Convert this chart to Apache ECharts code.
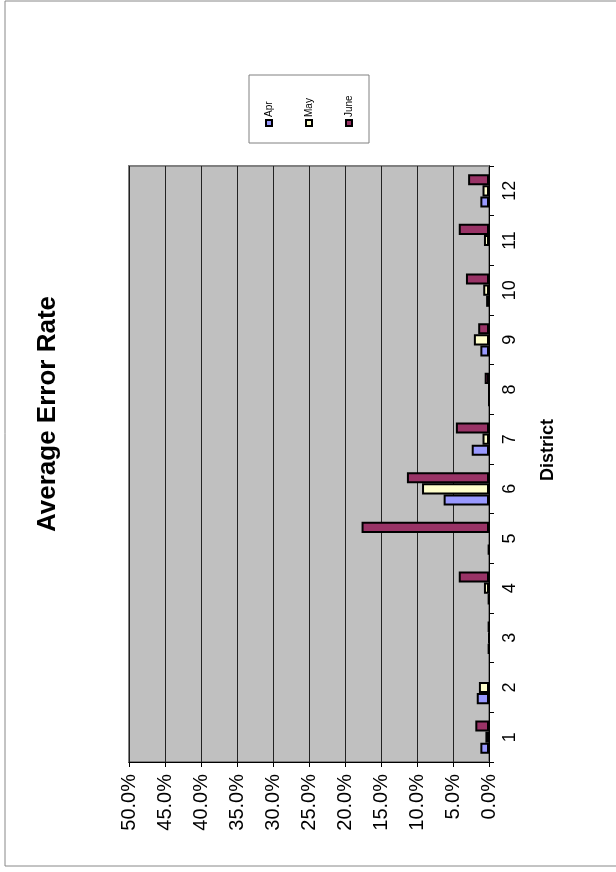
<!DOCTYPE html>
<html>
<head>
<meta charset="utf-8">
<script src="https://cdn.jsdelivr.net/npm/echarts@6/dist/echarts.min.js"></script>
<style>
html,body{margin:0;padding:0;background:#fff;}
#chart{width:616px;height:872px;}
</style>
</head>
<body>
<div id="chart"></div>
<script>
const categories = ['1','2','3','4','5','6','7','8','9','10','11','12'];
const seriesNames = ['Apr','May','June'];
const apr  = [1.2, 1.7, 0.1, 0.1, 0.1, 6.3, 2.4, 0,   1.2, 0.4, null, 1.2];
const may  = [0.5, 1.4, 0,   0.7, null, 9.3, 0.9, 0,  2.1, 0.8, 0.7, 0.9];
const june = [1.9, null, 0.1, 4.2, 17.7, 11.4, 4.6, 0.6, 1.5, 3.2, 4.2, 2.9];
const valueTicks = {min: 0, max: 50, interval: 5};
const colors = ['#9999FF', '#FFFFCC', '#993366'];
const title = 'Average Error Rate';
const axisName = 'District';

const chart = echarts.init(document.getElementById('chart'), null, {renderer: 'canvas'});
const font = 'Arial, "Liberation Sans", Helvetica, sans-serif';

const legendItems = [];
seriesNames.forEach((n, i) => {
  const x = 269 + i * 40;
  legendItems.push({
    type: 'rect', shape: {x: x - 3, y: 120, width: 6, height: 6},
    style: {fill: colors[i], stroke: '#000', lineWidth: 2}, z: 10
  });
  legendItems.push({
    type: 'text', x: x, y: 117, rotation: Math.PI / 2,
    style: {text: n, font: '10px ' + font, fill: '#000', textAlign: 'left', textVerticalAlign: 'middle'}, z: 10
  });
});

// Series listed June→Apr so that Apr sits lowest in each band (as in the reference)
const seriesData = [apr, may, june];
const order = [2, 1, 0];

const option = {
  animation: false,
  backgroundColor: '#fff',
  textStyle: {fontFamily: font},
  grid: {
    left: 129, right: 127, top: 166, bottom: 110,
    show: true, backgroundColor: '#C0C0C0', borderColor: '#808080', borderWidth: 2
  },
  xAxis: {
    type: 'value', inverse: true, position: 'bottom',
    min: valueTicks.min, max: valueTicks.max, interval: valueTicks.interval,
    axisLine: {show: true, lineStyle: {color: '#000', width: 1}},
    axisTick: {show: true, length: 5, lineStyle: {color: '#000'}},
    splitLine: {show: true, lineStyle: {color: '#222', width: 1}},
    axisLabel: {
      rotate: 90, margin: 12, color: '#000', fontSize: 20, fontFamily: font,
      formatter: v => v.toFixed(1) + '%'
    }
  },
  yAxis: {
    type: 'category', data: categories, position: 'right',
    axisLine: {show: true, onZero: false, lineStyle: {color: '#000', width: 1}},
    axisTick: {show: true, length: 5, lineStyle: {color: '#000'}},
    axisLabel: {rotate: 90, margin: 12, color: '#000', fontSize: 18, fontFamily: font},
    name: axisName, nameLocation: 'middle', nameRotate: 90, nameGap: 50,
    nameTextStyle: {fontSize: 18, fontWeight: 'bold', color: '#000', fontFamily: font, padding: [0, 0, 0, 28]}
  },
  series: order.map(i => ({
    name: seriesNames[i], type: 'bar', data: seriesData[i],
    barGap: '0%', barCategoryGap: '33%',
    itemStyle: {color: colors[i], borderColor: '#000', borderWidth: 2}
  })),
  graphic: [
    {type: 'rect', shape: {x: 5, y: 1, width: 640, height: 865},
     style: {fill: 'none', stroke: '#888', lineWidth: 1}, silent: true, z: -1},
    {type: 'text', x: 48, y: 414, rotation: Math.PI / 2,
     style: {text: title, font: 'bold 26px ' + font, fill: '#000', textAlign: 'center', textVerticalAlign: 'middle'}},
    {type: 'rect', shape: {x: 249, y: 75, width: 120, height: 68},
     style: {fill: '#fff', stroke: '#808080', lineWidth: 1}},
    ...legendItems
  ]
};
chart.setOption(option);
</script>
</body>
</html>
